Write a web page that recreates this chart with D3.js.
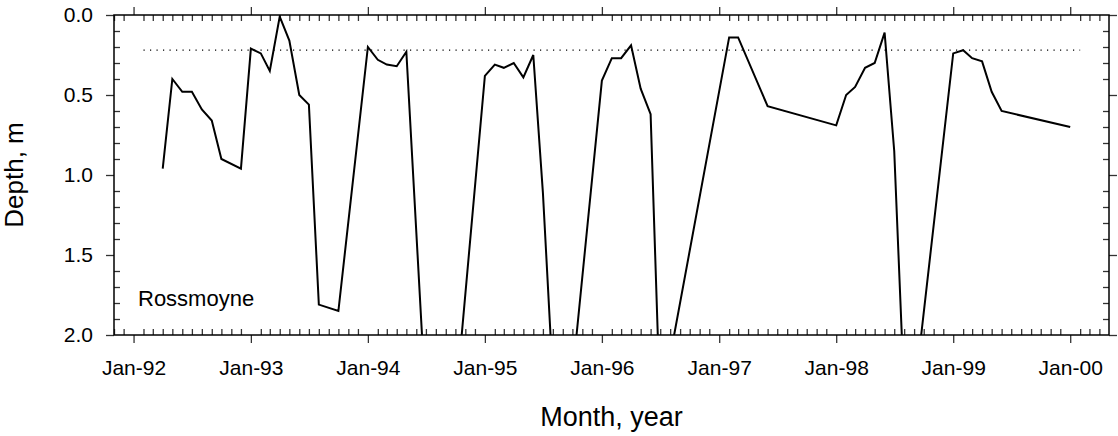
<!DOCTYPE html>
<html>
<head>
<meta charset="utf-8">
<script src="https://cdn.jsdelivr.net/npm/d3@7"></script>
<style>
  body { margin: 0; background: #fff; }
  svg { display: block; font-family: Arial, "Liberation Sans", sans-serif; }
</style>
</head>
<body>
<svg id="chart" width="1118" height="436"></svg>
<script>
// monthly water depth below surface, Rossmoyne (months with no reading are simply absent)
var months = ["1992-04","1992-05","1992-06","1992-07","1992-08","1992-09","1992-10","1992-12",
  "1993-01","1993-02","1993-03","1993-04","1993-05","1993-06","1993-07","1993-08","1993-10",
  "1994-01","1994-02","1994-03","1994-04","1994-05","1994-07","1994-10",
  "1995-01","1995-02","1995-03","1995-04","1995-05","1995-06","1995-07","1995-08","1995-10",
  "1996-01","1996-02","1996-03","1996-04","1996-05","1996-06","1996-07",
  "1997-02","1997-03","1997-06",
  "1998-01","1998-02","1998-03","1998-04","1998-05","1998-06","1998-07","1998-08","1998-09",
  "1999-01","1999-02","1999-03","1999-04","1999-05","1999-06","2000-01"];
var depth = [0.96,0.40,0.48,0.48,0.59,0.66,0.90,0.96,
  0.21,0.24,0.35,0.01,0.16,0.50,0.56,1.81,1.85,
  0.20,0.28,0.31,0.32,0.23,2.44,2.44,
  0.38,0.31,0.33,0.30,0.39,0.25,1.11,2.27,2.26,
  0.41,0.27,0.27,0.19,0.46,0.62,2.47,
  0.14,0.14,0.57,
  0.69,0.50,0.45,0.33,0.30,0.11,0.85,2.36,2.39,
  0.24,0.22,0.27,0.29,0.48,0.60,0.70];

// reference level (dotted)
var refDepth = 0.22;
var refMonths = ["1992-02", "2000-02"];

var yTicks = [0, 0.5, 1.0, 1.5, 2.0];

var parse = d3.timeParse("%Y-%m");
var data = months.map(function(m, i) { return { date: parse(m), v: depth[i] }; });

var svg = d3.select("#chart");
var pL = 114, pR = 1109, pT = 15, pB = 335;

var x = d3.scaleTime()
  .domain([new Date(1991, 10, 1), new Date(2000, 4, 1)])
  .range([pL, pR]);
var y = d3.scaleLinear().domain([0, 2]).range([pT, pB]);

var years = d3.timeYear.range(new Date(1992, 0, 1), new Date(2000, 1, 1));
var minorMonths = d3.timeMonth.range(x.domain()[0], x.domain()[1])
  .filter(function(d) { return d.getMonth() !== 0; });
var minorY = d3.range(1, 20).map(function(i) { return i / 10; })
  .filter(function(d) { return Math.round(d * 10) % 5 !== 0; });

var fmt = d3.timeFormat("%b-%y");

function styleAxis(g) {
  g.select(".domain").remove();
  g.selectAll(".tick line").attr("stroke", "#333").attr("stroke-width", 1.3);
  g.selectAll(".tick text").attr("fill", "#000").style("font-size", "21px");
}

// bottom
svg.append("g").attr("transform", "translate(0," + pB + ")")
  .call(d3.axisBottom(x).tickValues(years).tickSize(8).tickPadding(17).tickFormat(fmt))
  .call(styleAxis);
svg.append("g").attr("transform", "translate(0," + pB + ")")
  .call(d3.axisBottom(x).tickValues(minorMonths).tickSize(-6).tickFormat(""))
  .call(styleAxis);
// top
svg.append("g").attr("transform", "translate(0," + pT + ")")
  .call(d3.axisTop(x).tickValues(years).tickSize(8).tickFormat(""))
  .call(styleAxis);
svg.append("g").attr("transform", "translate(0," + pT + ")")
  .call(d3.axisTop(x).tickValues(minorMonths).tickSize(-6).tickFormat(""))
  .call(styleAxis);
// left
svg.append("g").attr("transform", "translate(" + pL + ",0)")
  .call(d3.axisLeft(y).tickValues(yTicks).tickSize(8).tickPadding(13).tickFormat(d3.format(".1f")))
  .call(styleAxis);
svg.append("g").attr("transform", "translate(" + pL + ",0)")
  .call(d3.axisLeft(y).tickValues(minorY).tickSize(-6).tickFormat(""))
  .call(styleAxis);
// right
svg.append("g").attr("transform", "translate(" + pR + ",0)")
  .call(d3.axisRight(y).tickValues(yTicks).tickSize(8).tickFormat(""))
  .call(styleAxis);
svg.append("g").attr("transform", "translate(" + pR + ",0)")
  .call(d3.axisRight(y).tickValues(minorY).tickSize(-6).tickFormat(""))
  .call(styleAxis);

// frame
svg.append("rect")
  .attr("x", pL).attr("y", pT)
  .attr("width", pR - pL).attr("height", pB - pT)
  .attr("fill", "none").attr("stroke", "#000").attr("stroke-width", 1.5);

svg.append("clipPath").attr("id", "plot")
  .append("rect").attr("x", pL).attr("y", pT)
  .attr("width", pR - pL).attr("height", pB - pT);

// dotted reference
svg.append("line")
  .attr("x1", x(parse(refMonths[0]))).attr("x2", x(parse(refMonths[1])))
  .attr("y1", y(refDepth)).attr("y2", y(refDepth))
  .attr("stroke", "#000").attr("stroke-width", 1.2)
  .attr("stroke-dasharray", "1.2,5.3");

var line = d3.line()
  .x(function(d) { return x(d.date); })
  .y(function(d) { return y(d.v); });

svg.append("path")
  .datum(data)
  .attr("clip-path", "url(#plot)")
  .attr("d", line)
  .attr("fill", "none")
  .attr("stroke", "#000")
  .attr("stroke-width", 2)
  .attr("stroke-linejoin", "miter");

svg.append("text")
  .attr("x", 138).attr("y", 306)
  .style("font-size", "22px")
  .text("Rossmoyne");

svg.append("text")
  .attr("x", (pL + pR) / 2).attr("y", 426)
  .attr("text-anchor", "middle")
  .style("font-size", "27px")
  .text("Month, year");

svg.append("text")
  .attr("transform", "translate(23," + ((pT + pB) / 2) + ") rotate(-90)")
  .attr("text-anchor", "middle")
  .style("font-size", "26px")
  .text("Depth, m");
</script>
</body>
</html>
